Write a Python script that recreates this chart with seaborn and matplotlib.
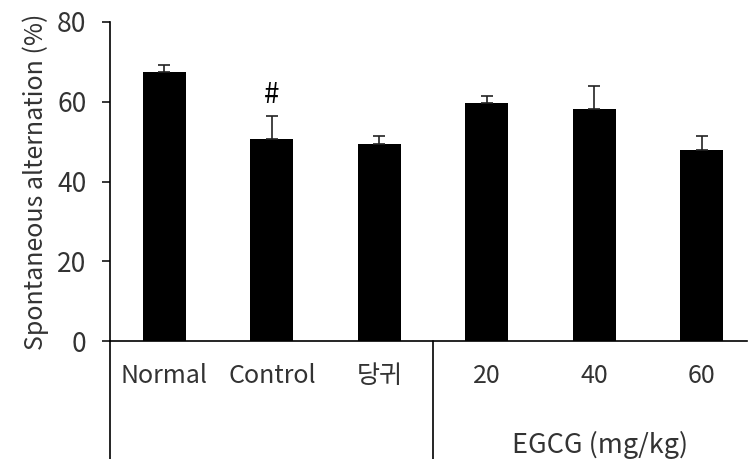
import numpy as np
import pandas as pd
import matplotlib
matplotlib.use("Agg")
import matplotlib.pyplot as plt
import matplotlib.transforms as mtransforms
import seaborn as sns

# Spontaneous alternation by treatment group (mean and upper SE)
groups = ["Normal", "Control", "당귀", "20", "40", "60"]
alternation = [67.5, 50.6, 49.5, 59.6, 58.3, 47.8]
sem = [1.6, 5.9, 2.0, 1.9, 5.7, 3.7]
marks = ["", "#", "", "", "", ""]
group_label = "EGCG (mg/kg)"
y_ticks = [0, 20, 40, 60, 80]

sns.set_theme(style="ticks")
plt.rcParams["font.family"] = ["Noto Sans CJK KR", "DejaVu Sans"]
text_color = "#333333"

df = pd.DataFrame({"group": groups, "value": alternation})

fig = plt.figure(figsize=(7.48, 4.59), dpi=100)
W, H = 748, 459
ax = fig.add_axes([110 / W, (H - 341) / H, (747 - 110) / W, (341 - 22) / H])

sns.barplot(data=df, x="group", y="value", color="black", width=0.4,
            errorbar=None, saturation=1, ax=ax, edgecolor="black", linewidth=0)

xpos = np.arange(len(groups))
ax.errorbar(xpos, alternation, yerr=[np.zeros(len(sem)), sem], fmt="none",
            ecolor="#222222", elinewidth=1.2, capsize=4.5, capthick=1.2, zorder=3)

for x, v, e, m in zip(xpos, alternation, sem, marks):
    if m:
        ax.text(x, v + e + 1.5, m, ha="center", va="bottom", fontsize=20,
                color="black")

ax.set_xlim(-0.507, 5.42)
ax.set_ylim(0, 80)
ax.set_yticks(y_ticks)
ax.set_xlabel("")
ax.set_ylabel("Spontaneous alternation (%)", fontsize=18, color=text_color,
              labelpad=6)

sns.despine(ax=ax)
for s in ("left", "bottom"):
    ax.spines[s].set_linewidth(1.2)
    ax.spines[s].set_color("black")

ax.tick_params(axis="y", direction="out", length=6, width=1.1, pad=11,
               labelsize=19, labelcolor=text_color, color="black")
ax.tick_params(axis="x", length=0, pad=16, labelsize=18, labelcolor=text_color)

# Lines below the axis separating the treatment groups
blend = mtransforms.blended_transform_factory(ax.transData, ax.transAxes)
ext = -(H - 341) / (341 - 22)
ax.plot([-0.507, -0.507], [0, ext], transform=blend, color="black",
        lw=1.2, clip_on=False)
ax.plot([2.5, 2.5], [0, ext], transform=blend, color="black",
        lw=1.2, clip_on=False)

ax.text(4.05, -0.325, group_label, transform=blend, ha="center", va="center",
        fontsize=19.5, color=text_color)

fig.savefig("out.png", dpi=100)
